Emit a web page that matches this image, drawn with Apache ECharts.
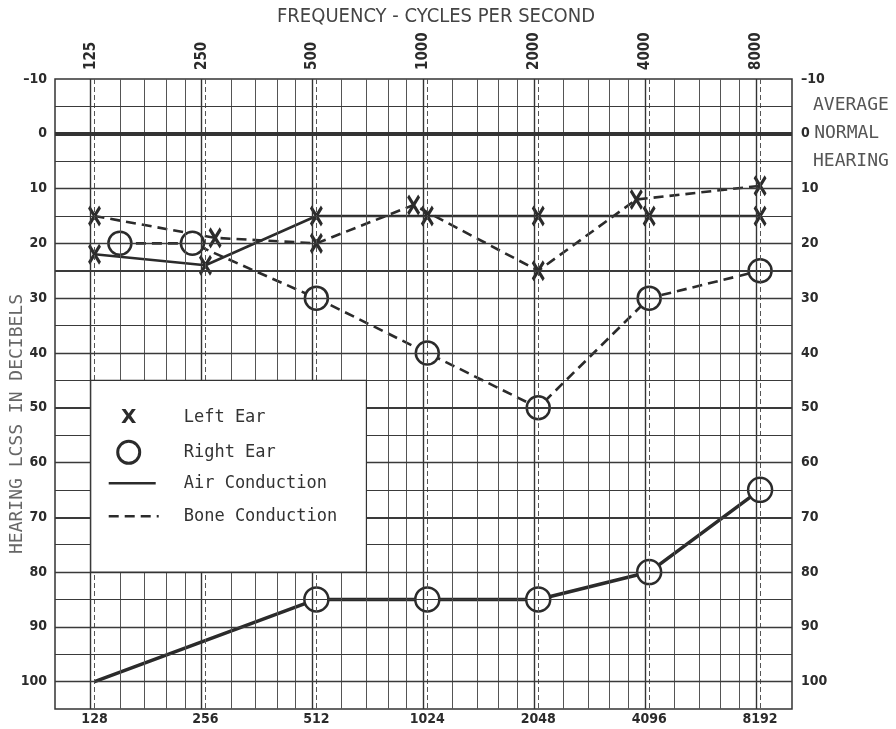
<!DOCTYPE html>
<html><head><meta charset="utf-8">
<script src="https://cdn.jsdelivr.net/npm/echarts@6/dist/echarts.min.js"></script>
<style>html,body{margin:0;padding:0;background:#fff}#c{width:896px;height:729px}</style>
</head><body><div id="c"></div>
<script>
// ---- data (frequency in Hz, hearing loss in dB) ----
const bottomTicks = [128, 256, 512, 1024, 2048, 4096, 8192];
const topTicks = [125, 250, 500, 1000, 2000, 4000, 8000];
const minorSteps = [1.2, 1.4, 1.6, 1.8];
const dbLines = [-5, 0, 5, 10, 15, 20, 25, 30, 35, 40, 45, 50, 55, 60, 65, 70, 75, 80, 85, 90, 95, 100];
const heavyDb = [25, 50, 70];
const leftAir = [[128, 22], [256, 24], [512, 15], [1024, 15], [2048, 15], [4096, 15], [8192, 15]];
const leftBone = [[128, 15], [272, 19], [512, 20], [940, 13], [2048, 25], [3780, 12], [8192, 9.5]];
const rightAir = [[128, 100], [512, 85], [1024, 85], [2048, 85], [4096, 80], [8192, 65]];
const rightBone = [[150, 20], [236, 20], [512, 30], [1024, 40], [2048, 50], [4096, 30], [8192, 25]];
const legendItems = ['Left Ear', 'Right Ear', 'Air Conduction', 'Bone Conduction'];

const INK = '#2b2b2b';
const BOLD = 'DejaVu Sans Condensed, DejaVu Sans, sans-serif';
const MONO = 'DejaVu Sans Mono, monospace';
const X_PATH = 'path://M0,0L10,16M10,0L0,16';

const chart = echarts.init(document.getElementById('c'), null, {renderer: 'canvas'});

const vLines = [];
topTicks.forEach((f, i) => {
  vLines.push({xAxis: f, lineStyle: {width: 1.4, color: '#333', type: 'solid'}});
  if (i < topTicks.length - 1) minorSteps.forEach(m => vLines.push({xAxis: f * m, lineStyle: {width: 1, color: '#555', type: 'solid'}}));
});
bottomTicks.forEach(f => vLines.push({xAxis: f, lineStyle: {width: 1, color: '#555', type: [5, 3]}}));
const hLines = dbLines.map(d => {
  let w = d % 10 === 0 ? 1.3 : 1;
  if (heavyDb.includes(d)) w = 2.2;
  if (d === 0) w = 4;
  return {yAxis: d, lineStyle: {width: w, color: d === 0 ? '#333' : '#3a3a3a', type: 'solid'}};
});

function gridSeries(data) {
  return {type: 'line', data: [], silent: true, z: 1,
    markLine: {silent: true, symbol: ['none', 'none'], label: {show: false}, animation: false, data: data}};
}

const xItem = {color: INK, borderColor: INK, borderWidth: 3.4};
const oItem = {color: '#fff', borderColor: INK, borderWidth: 2.5};

const option = {
  animation: false,
  backgroundColor: '#fff',
  grid: {left: 55, right: 104, top: 79, bottom: 20, show: true, borderColor: '#333', borderWidth: 1.5, backgroundColor: '#fff'},
  xAxis: {type: 'log', logBase: 2, min: 100, max: 10000,
    axisLabel: {show: false}, axisTick: {show: false}, splitLine: {show: false}, axisLine: {show: false}},
  yAxis: [
    {type: 'value', inverse: true, min: -10, max: 105, interval: 10, position: 'left',
      axisLine: {show: false}, axisTick: {show: false}, splitLine: {show: false},
      axisLabel: {showMaxLabel: false, margin: 8, color: INK, fontWeight: 'bold', fontSize: 14, fontFamily: BOLD,
        formatter: v => String(v).replace('-', '\u2013')}},
    {type: 'value', inverse: true, min: -10, max: 105, interval: 10, position: 'right',
      axisLine: {show: false}, axisTick: {show: false}, splitLine: {show: false},
      axisLabel: {showMaxLabel: false, margin: 9, color: INK, fontWeight: 'bold', fontSize: 14, fontFamily: BOLD,
        formatter: v => v === 0 ? '{ind|AVERAGE}\n{b|0} {n|NORMAL}\n{ind|HEARING}' : '{b|' + String(v).replace('-', '\u2013') + '}',
        rich: {
          b: {fontWeight: 'bold', fontSize: 14, fontFamily: BOLD, color: INK, lineHeight: 28},
          n: {fontWeight: 'normal', fontSize: 18, fontFamily: MONO, color: '#555', lineHeight: 28},
          ind: {fontWeight: 'normal', fontSize: 18, fontFamily: MONO, color: '#555', lineHeight: 28, padding: [0, 0, 0, 12]}
        }}}
  ],
  series: [
    gridSeries(vLines),
    gridSeries(hLines),
    {name: 'Left Air', type: 'line', data: leftAir, z: 3, silent: true, symbol: X_PATH, symbolSize: [11, 18],
      itemStyle: xItem, lineStyle: {color: INK, width: 2.6, type: 'solid'}},
    {name: 'Left Bone', type: 'line', data: leftBone, z: 3, silent: true, symbol: X_PATH, symbolSize: [11, 18],
      itemStyle: xItem, lineStyle: {color: INK, width: 2.6, type: [10, 6]}},
    {name: 'Right Bone', type: 'line', data: rightBone, z: 4, silent: true, symbol: 'circle', symbolSize: 23,
      itemStyle: oItem, lineStyle: {color: INK, width: 2.6, type: [10, 6]}},
    {name: 'Right Air', type: 'line', z: 4, silent: true, symbol: 'circle', symbolSize: 24,
      data: rightAir.map((p, i) => i === 0 ? {value: p, symbol: 'none'} : {value: p}),
      itemStyle: oItem, lineStyle: {color: INK, width: 3.5, type: 'solid'}}
  ]
};
chart.setOption(option);

const px = p => chart.convertToPixel({xAxisIndex: 0, yAxisIndex: 0}, p);
const g = [];
// title & axis name
g.push({type: 'text', x: 436, y: 17, z: 20, style: {text: 'FREQUENCY - CYCLES PER SECOND', font: '20px "Liberation Sans Narrow", "DejaVu Sans Condensed", sans-serif', fill: '#444', align: 'center', verticalAlign: 'middle'}});
g.push({type: 'text', x: 17, y: 424, rotation: Math.PI / 2, z: 20, style: {text: 'HEARING LCSS IN DECIBELS', font: '18px ' + MONO, fill: '#666', align: 'center', verticalAlign: 'middle'}});
// tick labels
bottomTicks.forEach(f => { const p = px([f, 105]); g.push({type: 'text', x: p[0], y: p[1] + 10, z: 20, style: {text: String(f), font: 'bold 14px ' + BOLD, fill: INK, align: 'center', verticalAlign: 'middle'}}); });
topTicks.forEach(f => { const p = px([f, -10]); g.push({type: 'text', x: p[0], y: p[1] - 9, rotation: Math.PI / 2, z: 20, style: {text: String(f), font: 'bold 15px ' + BOLD, fill: INK, align: 'left', verticalAlign: 'middle'}}); });
// legend box
const b1 = px([125, 45]), b2 = px([700, 80]);
const bx = b1[0], by = b1[1];
g.push({type: 'rect', z: 10, shape: {x: bx, y: by, width: b2[0] - bx, height: b2[1] - by}, style: {fill: '#fff', stroke: '#333', lineWidth: 1.2}});
const rows = [37, 72, 103, 136];
g.push({type: 'text', z: 11, x: bx + 38, y: by + rows[0], style: {text: 'X', font: 'bold 20px DejaVu Sans, sans-serif', fill: INK, align: 'center', verticalAlign: 'middle'}});
g.push({type: 'circle', z: 11, shape: {cx: bx + 38, cy: by + rows[1], r: 11}, style: {fill: '#fff', stroke: INK, lineWidth: 3}});
g.push({type: 'line', z: 11, shape: {x1: bx + 18, y1: by + rows[2], x2: bx + 65, y2: by + rows[2]}, style: {stroke: INK, lineWidth: 2.5}});
g.push({type: 'line', z: 11, shape: {x1: bx + 18, y1: by + rows[3], x2: bx + 68, y2: by + rows[3]}, style: {stroke: INK, lineWidth: 2.5, lineDash: [10, 6]}});
legendItems.forEach((t, i) => g.push({type: 'text', z: 11, x: bx + 93, y: by + rows[i], style: {text: t, font: '17px ' + MONO, fill: '#333', align: 'left', verticalAlign: 'middle'}}));
chart.setOption({graphic: g});
</script></body></html>
